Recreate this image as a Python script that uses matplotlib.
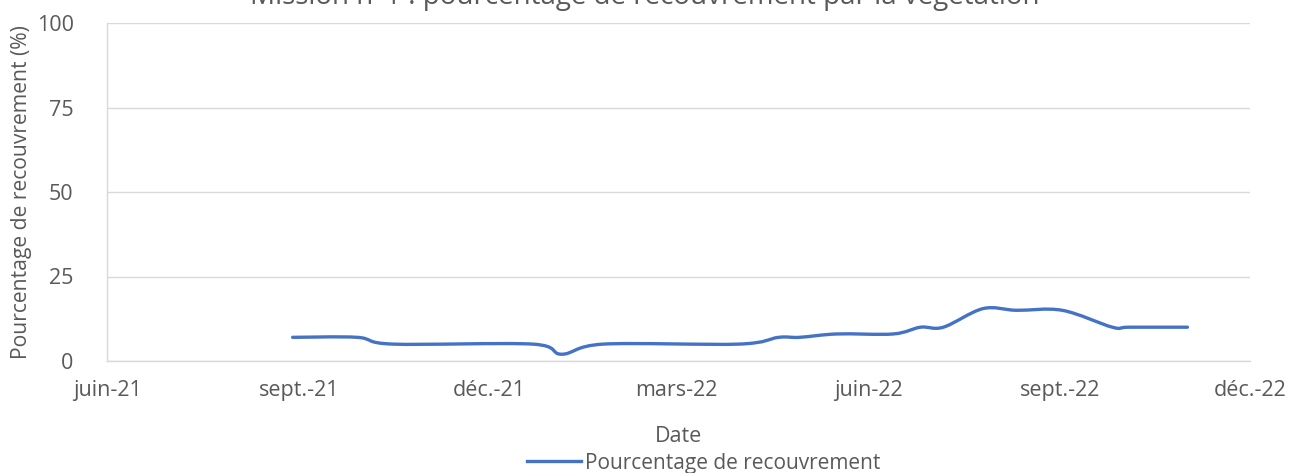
import matplotlib
matplotlib.use("Agg")
import matplotlib.pyplot as plt
import matplotlib.dates as mdates
from matplotlib.path import Path
from matplotlib.patches import PathPatch
from matplotlib.lines import Line2D
import numpy as np
import datetime as dt

plt.rcParams['font.family'] = ['Open Sans', 'DejaVu Sans']

dates = ["2021-08-29", "2021-09-29", "2021-10-16", "2021-12-22", "2022-01-05",
         "2022-01-25", "2022-03-31", "2022-04-19", "2022-04-29", "2022-05-17",
         "2022-06-13", "2022-06-26", "2022-07-07", "2022-07-26", "2022-08-11",
         "2022-09-02", "2022-09-26", "2022-10-04", "2022-11-01"]
values = [7, 7, 5, 5, 2, 5, 5, 7, 7, 8, 8, 10, 10, 15.5, 15, 15, 10, 10, 10]
tick_labels = ["juin-21", "sept.-21", "déc.-21", "mars-22", "juin-22", "sept.-22", "déc.-22"]
tick_dates = ["2021-06-01", "2021-09-01", "2021-12-01", "2022-03-01", "2022-06-01",
              "2022-09-01", "2022-12-01"]

title = "Mission n°1 : pourcentage de recouvrement par la végétation"
series_name = "Pourcentage de recouvrement"
color = "#4472C4"
txt = "#595959"
fs = 15.5

W, H = 1289, 473
fig = plt.figure(figsize=(W / 100, H / 100), dpi=100)
ax = fig.add_axes([107 / W, 1 - 361 / H, (1250 - 107) / W, (361 - 23) / H])

x = mdates.date2num([dt.date.fromisoformat(d) for d in dates])
y = np.array(values, dtype=float)

# smoothed line (Catmull-Rom as cubic Bezier, like Excel's smooth line)
verts = [(x[0], y[0])]
codes = [Path.MOVETO]
n = len(x)
for i in range(n - 1):
    p0 = (x[i - 1], y[i - 1]) if i > 0 else (x[i], y[i])
    p1 = (x[i], y[i])
    p2 = (x[i + 1], y[i + 1])
    p3 = (x[i + 2], y[i + 2]) if i + 2 < n else (x[i + 1], y[i + 1])
    t = 1 / 6
    c1 = (p1[0] + (p2[0] - p0[0]) * t, p1[1] + (p2[1] - p0[1]) * t)
    c2 = (p2[0] - (p3[0] - p1[0]) * t, p2[1] - (p3[1] - p1[1]) * t)
    verts += [c1, c2, p2]
    codes += [Path.CURVE4] * 3
patch = PathPatch(Path(verts, codes), facecolor="none", edgecolor=color, lw=2.4,
                  capstyle="round", joinstyle="round", transform=ax.transData, zorder=3)
ax.add_patch(patch)

tk = mdates.date2num([dt.date.fromisoformat(d) for d in tick_dates])
ax.set_xlim(tk[0], tk[-1])
ax.set_ylim(0, 100)
ax.set_xticks(tk)
ax.set_xticklabels(tick_labels)
ax.set_yticks([0, 25, 50, 75, 100])
ax.tick_params(axis="both", length=0, labelsize=fs, colors=txt)
ax.tick_params(axis="x", pad=14)
ax.tick_params(axis="y", pad=24)
ax.grid(axis="y", color="#D9D9D9", lw=1)
ax.set_axisbelow(True)
for s in ["top", "right"]:
    ax.spines[s].set_visible(False)
for s in ["left", "bottom"]:
    ax.spines[s].set_color("#D9D9D9")
    ax.spines[s].set_linewidth(1)

ax.set_xlabel("Date", fontsize=fs, color=txt, labelpad=18)
ax.set_ylabel("Pourcentage de recouvrement (%)", fontsize=15.2, color=txt, labelpad=3)

fig.text(0.5, 1 - 4 / H, title, ha="center", va="baseline", fontsize=20, color=txt)

handle = Line2D([], [], color=color, lw=2.4)
fig.legend([handle], [series_name], loc="center left",
           bbox_to_anchor=(527 / W, 1 - 463 / H),
           frameon=False, fontsize=15, labelcolor=txt, handlelength=2.6,
           handletextpad=0.2, borderpad=0, borderaxespad=0)

fig.savefig("out.png", dpi=100)
